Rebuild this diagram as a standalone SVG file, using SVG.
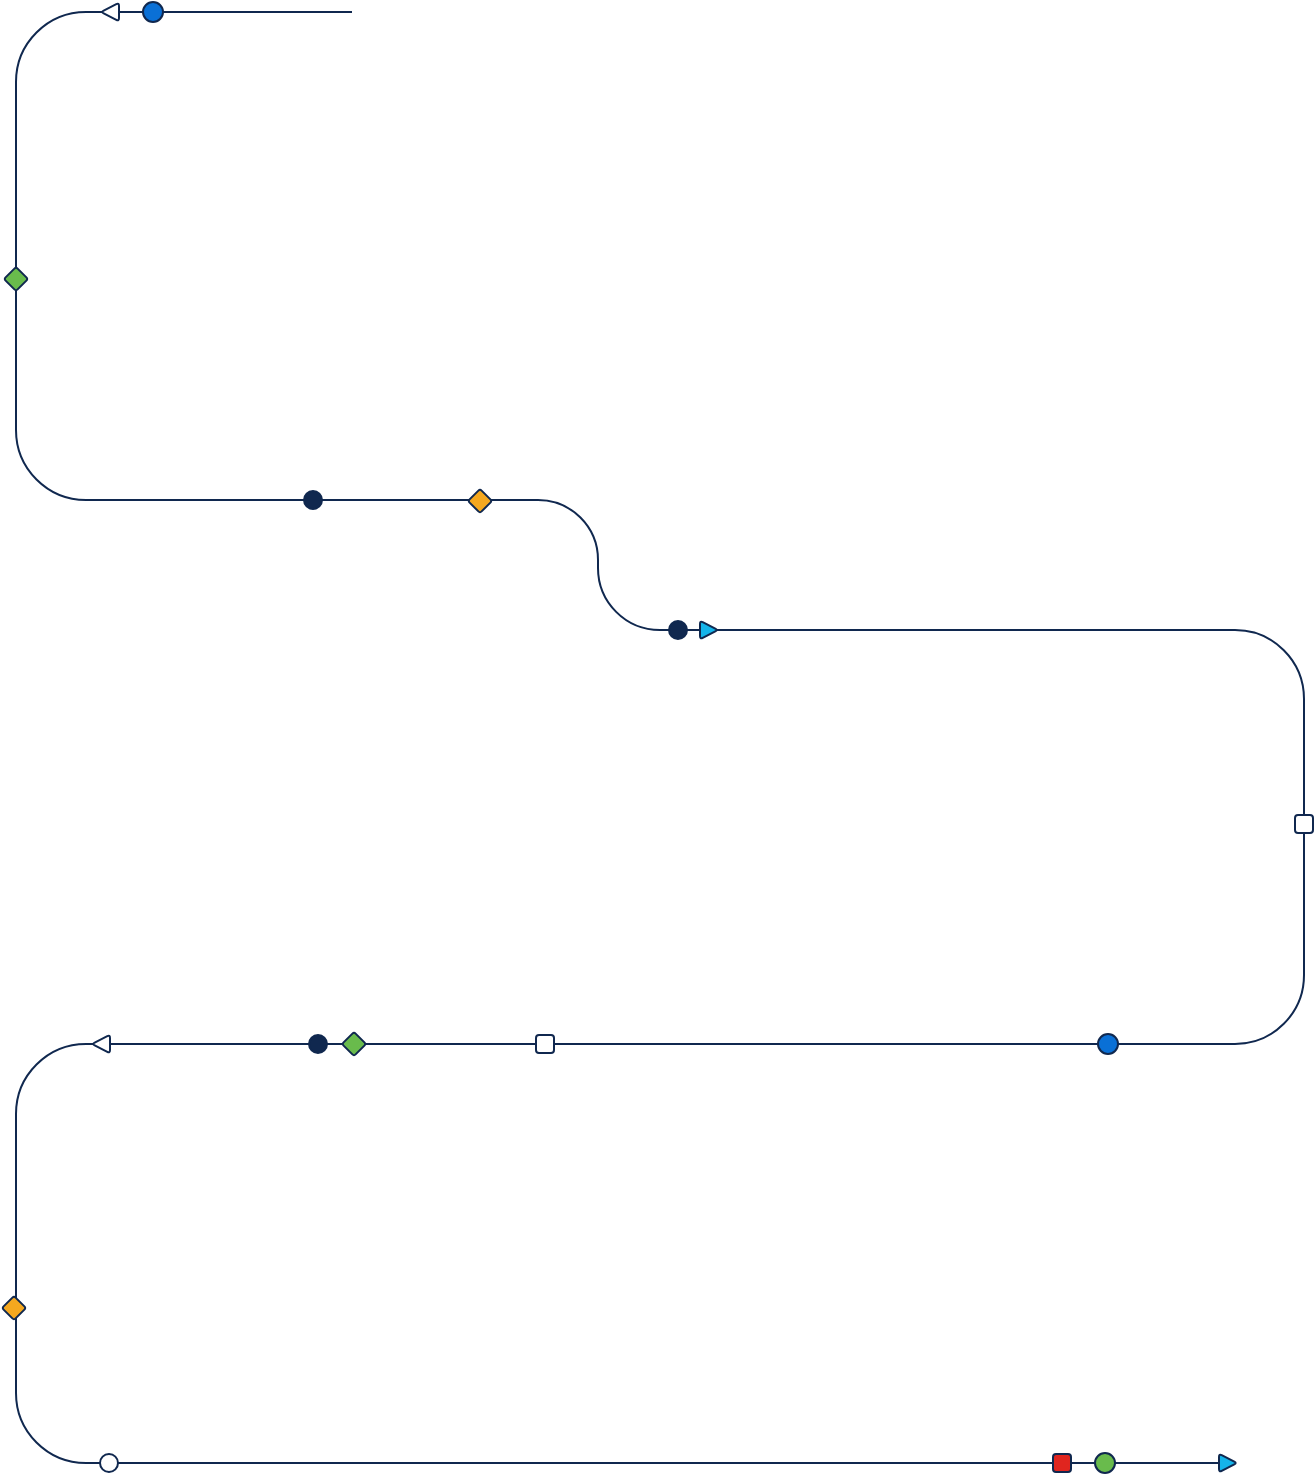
<svg xmlns="http://www.w3.org/2000/svg" width="1316" height="1475" viewBox="0 0 1316 1475">
<style>
.line{fill:none;stroke:#10284f;stroke-width:2}
.m{stroke:#10284f;stroke-width:2;stroke-linejoin:round}
.navy{fill:#10284f}
.blue{fill:#0a70d6}
.green{fill:#69bb4c}
.orange{fill:#f5a81f}
.white{fill:#ffffff}
.cyan{fill:#14b4ea}
.red{fill:#e0251f}
</style>
<defs>
<path id="triL" d="M2.7,-1.4 L15.3,-7.8 Q18,-9.2 18,-6 L18,6 Q18,9.2 15.3,7.8 L2.7,1.4 Q0,0 2.7,-1.4 Z"/>
<path id="dia" d="M-1.6,-10.4 Q0,-12 1.6,-10.4 L10.4,-1.6 Q12,0 10.4,1.6 L1.6,10.4 Q0,12 -1.6,10.4 L-10.4,1.6 Q-12,0 -10.4,-1.6 Z"/>
</defs>
<rect width="1316" height="1475" fill="#ffffff"/>
<g id="connectors">
<path class="line" d="M352,12 L86,12 A70,70 0 0 0 16,82 L16,430 A70,70 0 0 0 86,500 L538,500 A60,60 0 0 1 598,560 L598,568 A62,62 0 0 0 660,630 L1235,630 A69,69 0 0 1 1304,699 L1304,975 A69,69 0 0 1 1235,1044 L86,1044 A70,70 0 0 0 16,1114 L16,1393 A70,70 0 0 0 86,1463 L1226,1463"/>
</g>
<g id="n1"><use href="#triL" class="m white" transform="translate(101,12)"/></g>
<g id="n2"><circle class="m blue" cx="153" cy="12" r="10"/></g>
<g id="n3"><use href="#dia" class="m green" transform="translate(16,279)"/></g>
<g id="n4"><circle class="m navy" cx="313" cy="500" r="9"/></g>
<g id="n5"><use href="#dia" class="m orange" transform="translate(480,501)"/></g>
<g id="n6"><circle class="m navy" cx="678" cy="630" r="9"/></g>
<g id="n7"><use href="#triL" class="m cyan" transform="translate(718,630) scale(-1,1)"/></g>
<g id="n8"><rect class="m white" x="1295" y="815" width="18" height="18" rx="3"/></g>
<g id="n9"><circle class="m blue" cx="1108" cy="1044" r="10"/></g>
<g id="n10"><rect class="m white" x="536" y="1035" width="18" height="18" rx="3"/></g>
<g id="n11"><use href="#dia" class="m green" transform="translate(354,1044)"/></g>
<g id="n12"><circle class="m navy" cx="318" cy="1044" r="9"/></g>
<g id="n13"><use href="#triL" class="m white" transform="translate(92,1044)"/></g>
<g id="n14"><use href="#dia" class="m orange" transform="translate(14,1308)"/></g>
<g id="n15"><circle class="m white" cx="109" cy="1463" r="9"/></g>
<g id="n16"><rect class="m red" x="1053" y="1454" width="18" height="18" rx="3"/></g>
<g id="n17"><circle class="m green" cx="1105" cy="1463" r="10"/></g>
<g id="n18"><use href="#triL" class="m cyan" transform="translate(1237,1463) scale(-1,1)"/></g>
</svg>
